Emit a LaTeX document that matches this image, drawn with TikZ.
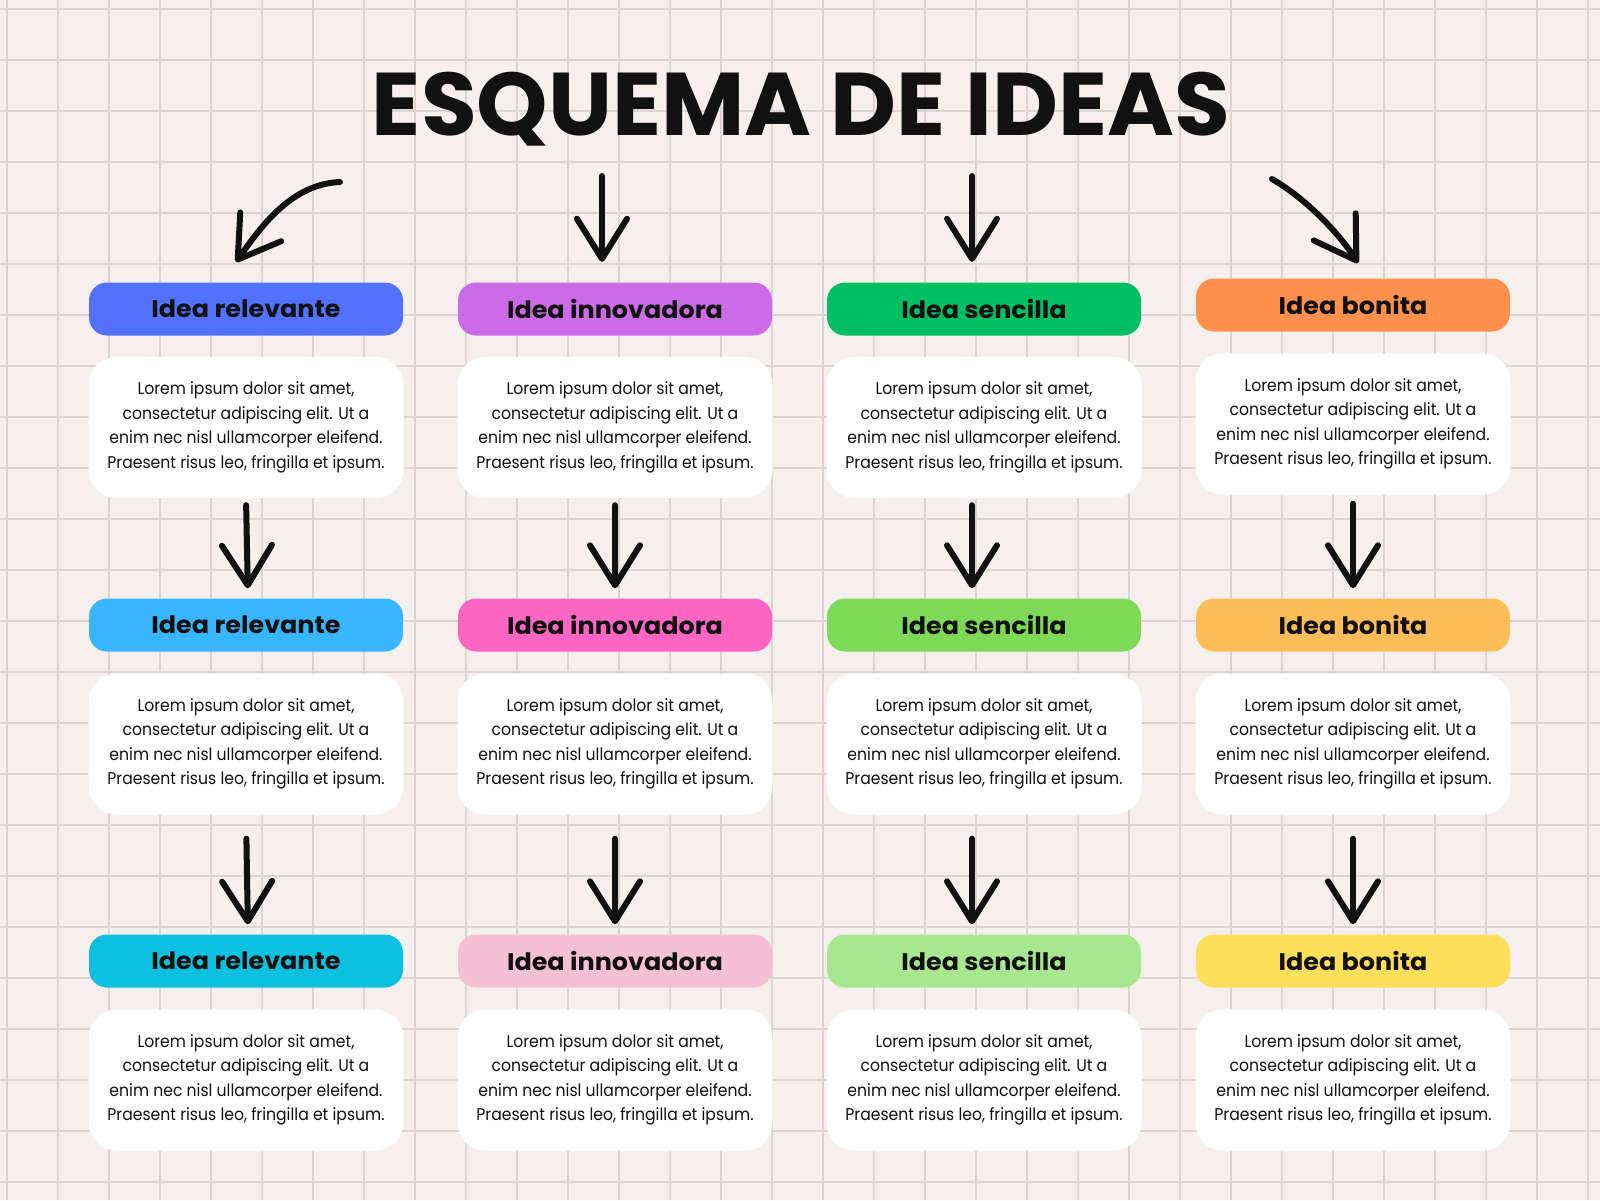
\documentclass[tikz,border=0pt]{standalone}
\usepackage{fontspec}
\setmainfont{Poppins}
\newfontfamily\bodyfont{Poppins}[FakeStretch=0.92]
\newfontfamily\titlefont{Poppins}[FakeStretch=1.02]
\newfontfamily\headfont{Poppins}[FakeStretch=1.06]
\usetikzlibrary{arrows.meta}
\definecolor{bg}{HTML}{F5F0EE}
\definecolor{gridc}{HTML}{DAD5D3}
\definecolor{cA1}{HTML}{5271FF}
\definecolor{cB1}{HTML}{CB6CE6}
\definecolor{cC1}{HTML}{00BF63}
\definecolor{cD1}{HTML}{FF914D}
\definecolor{cA2}{HTML}{38B6FF}
\definecolor{cB2}{HTML}{FF66C4}
\definecolor{cC2}{HTML}{7ED957}
\definecolor{cD2}{HTML}{FFBD59}
\definecolor{cA3}{HTML}{0CC0DF}
\definecolor{cB3}{HTML}{F4C0D3}
\definecolor{cC3}{HTML}{A6E78F}
\definecolor{cD3}{HTML}{FFDE59}
\definecolor{ink}{HTML}{111111}
\newcommand{\lorem}{Lorem ipsum dolor sit amet,\\consectetur adipiscing elit. Ut a\\enim nec nisl ullamcorper eleifend.\\Praesent risus leo, fringilla et ipsum.}
\begin{document}
\begin{tikzpicture}[x=1pt,y=-1pt,
  hdr/.style={rounded corners=18pt, minimum width=314pt, minimum height=53pt, inner sep=0pt,
    font=\headfont\bfseries\fontsize{24}{24}\selectfont, text=ink},
  txtbox/.style={fill=white, rounded corners=28pt, minimum width=315pt, minimum height=141pt, inner sep=0pt,
    align=center, font=\bodyfont\fontsize{17}{24.5}\selectfont, text=ink},
  harrow/.style={ink, line width=6pt, line cap=round, line join=round,
    -{Straight Barb[length=40pt,width=50pt,round]}},
  gridline/.style={gridc, line width=1.3pt}]
\useasboundingbox (0,0) rectangle (1600,1200);
\fill[bg] (0,0) rectangle (1600,1200);
\foreach \i in {0,...,31} \draw[gridline] (7+51*\i,0) -- (7+51*\i,1200);
\foreach \j in {0,...,23} \draw[gridline] (0,9+51*\j) -- (1600,9+51*\j);

\node[font=\titlefont\bfseries\fontsize{89}{89}\selectfont, text=ink, anchor=base] (title) at (801,135) {ESQUEMA DE IDEAS};

% headers
\node[hdr, fill=cA1] (h11) at (246,309) {Idea relevante};
\node[hdr, fill=cB1] (h12) at (615,309) {Idea innovadora};
\node[hdr, fill=cC1] (h13) at (984,309) {Idea sencilla};
\node[hdr, fill=cD1] (h14) at (1353,305) {Idea bonita};
\node[hdr, fill=cA2] (h21) at (246,625) {Idea relevante};
\node[hdr, fill=cB2] (h22) at (615,625) {Idea innovadora};
\node[hdr, fill=cC2] (h23) at (984,625) {Idea sencilla};
\node[hdr, fill=cD2] (h24) at (1353,625) {Idea bonita};
\node[hdr, fill=cA3] (h31) at (246,961) {Idea relevante};
\node[hdr, fill=cB3] (h32) at (615,961) {Idea innovadora};
\node[hdr, fill=cC3] (h33) at (984,961) {Idea sencilla};
\node[hdr, fill=cD3] (h34) at (1353,961) {Idea bonita};

% text boxes
\node[txtbox] (t11) at (246,427.5) {\lorem};
\node[txtbox] (t12) at (615,427.5) {\lorem};
\node[txtbox] (t13) at (984,427.5) {\lorem};
\node[txtbox] (t14) at (1353,424) {\lorem};
\node[txtbox] (t21) at (246,744) {\lorem};
\node[txtbox] (t22) at (615,744) {\lorem};
\node[txtbox] (t23) at (984,744) {\lorem};
\node[txtbox] (t24) at (1353,744) {\lorem};
\node[txtbox] (t31) at (246,1080) {\lorem};
\node[txtbox] (t32) at (615,1080) {\lorem};
\node[txtbox] (t33) at (984,1080) {\lorem};
\node[txtbox] (t34) at (1353,1080) {\lorem};

% top arrows
\coordinate (s1) at (340,182);
\coordinate (e1) at (236,262);
\coordinate (s2) at (602,176);
\coordinate (s3) at (972,176);
\coordinate (s4) at (1272,179);
\coordinate (e4) at (1358,263);
\draw[harrow] (s1) .. controls (292,184) and (262,225) .. (e1);
\draw[harrow, shorten >=20.5pt] (s2) -- ([xshift=-13pt]h12.north);
\draw[harrow, shorten >=20.5pt] (s3) -- ([xshift=-12pt]h13.north);
\draw[harrow] (s4) .. controls (1305,198) and (1338,232) .. (e4);

% row arrows
\draw[harrow, shorten <=7pt, shorten >=10pt] ([xshift=0pt]t11.south) -- ([xshift=2pt]h21.north);
\draw[harrow, shorten <=7pt, shorten >=10pt] (t12.south) -- (h22.north);
\draw[harrow, shorten <=7pt, shorten >=10pt] ([xshift=-12pt]t13.south) -- ([xshift=-12pt]h23.north);
\draw[harrow, shorten <=9pt, shorten >=10pt] (t14.south) -- (h24.north);
\draw[harrow, shorten <=24pt, shorten >=10pt] ([xshift=0pt]t21.south) -- ([xshift=2pt]h31.north);
\draw[harrow, shorten <=24pt, shorten >=10pt] (t22.south) -- (h32.north);
\draw[harrow, shorten <=24pt, shorten >=10pt] ([xshift=-12pt]t23.south) -- ([xshift=-12pt]h33.north);
\draw[harrow, shorten <=24pt, shorten >=10pt] (t24.south) -- (h34.north);
\end{tikzpicture}
\end{document}
